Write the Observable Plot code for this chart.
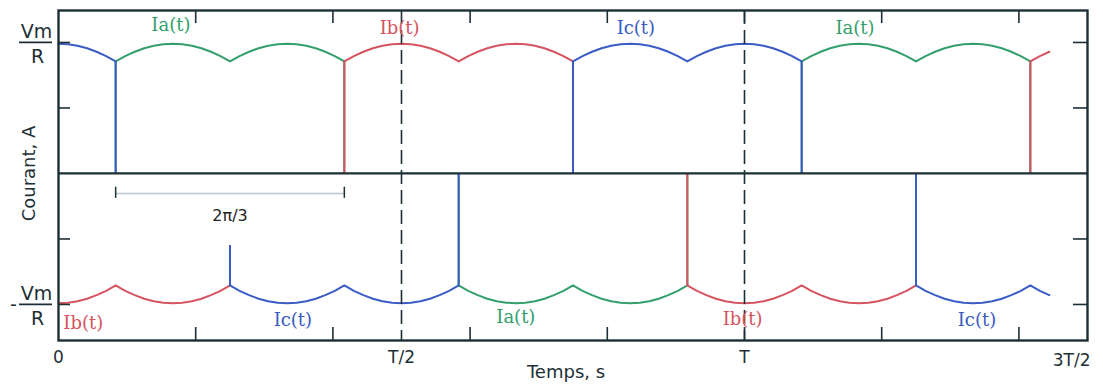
<!DOCTYPE html>
<html>
<head>
<meta charset="utf-8">
<script src="https://cdn.jsdelivr.net/npm/d3@7"></script>
<script src="https://cdn.jsdelivr.net/npm/@observablehq/plot@0.6"></script>
<style>
  html, body { margin: 0; padding: 0; background: #fff; }
</style>
</head>
<body>
<div id="chart"></div>
<script>
// ---- data (electrical angle in degrees; T = 360°) ----
// sampling grid of the read-off curve (every 5°)
const angle = d3.range(0, 521, 5);
// magnitude of the conducting phase current (units of Vm/R)
const iLoad = [
  0.99,0.986,0.975,0.956,0.929,0.896,0.855,0.896,0.929,0.956,0.975,0.986,
  0.99,0.986,0.975,0.956,0.929,0.896,0.855,0.896,0.929,0.956,0.975,0.986,
  0.99,0.986,0.975,0.956,0.929,0.896,0.855,0.896,0.929,0.956,0.975,0.986,
  0.99,0.986,0.975,0.956,0.929,0.896,0.855,0.896,0.929,0.956,0.975,0.986,
  0.99,0.986,0.975,0.956,0.929,0.896,0.855,0.896,0.929,0.956,0.975,0.986,
  0.99,0.986,0.975,0.956,0.929,0.896,0.855,0.896,0.929,0.956,0.975,0.986,
  0.99,0.986,0.975,0.956,0.929,0.896,0.855,0.896,0.929,0.956,0.975,0.986,
  0.99,0.986,0.975,0.956,0.929,0.896,0.855,0.896,0.929,0.956,0.975,0.986,
  0.99,0.986,0.975,0.956,0.929,0.896,0.855,0.896,0.929
];
// positive conduction intervals
const posStart = [0, 30, 150, 270, 390, 510];
const posEnd   = [30, 150, 270, 390, 510, 520];
const posPhase = ["Ic", "Ia", "Ib", "Ic", "Ia", "Ib"];
// negative conduction intervals
const negStart = [0, 90, 210, 330, 450];
const negEnd   = [90, 210, 330, 450, 520];
const negPhase = ["Ib", "Ic", "Ia", "Ib", "Ic"];
// upper end of the negative switching edges (first one is a short spike)
const negEdgeTop = [-0.55, 0, 0, 0];
// curve labels
const lblText  = ["Ia(t)", "Ib(t)", "Ic(t)", "Ia(t)", "Ib(t)", "Ic(t)", "Ia(t)", "Ib(t)", "Ic(t)"];
const lblPhase = ["Ia", "Ib", "Ic", "Ia", "Ib", "Ic", "Ia", "Ib", "Ic"];
const lblAngle = [59, 179, 303, 418, 13, 123, 240, 359, 482];
const lblValue = [1.13, 1.11, 1.11, 1.11, -1.14, -1.12, -1.10, -1.11, -1.12];
// axes
const yTicks = [-1, -0.5, 0.5, 1];
const xTicks = [72, 144, 216, 288, 360, 432, 504];
const xLabelAt = [0, 180, 360];
const xLabelText = ["0", "T/2", "T"];
const xEndAt = 540;
const xEndText = "3T/2";
const dashedAt = [180, 360];
const spanMark = [30, 150];          // 2π/3 interval
const spanLabel = "2π/3";
const phases = ["Ia", "Ib", "Ic"];
const phaseColors = ["#33a06c", "#d6545f", "#3a5cc4"];

// ---- build mark data ----
const order = p => phases.indexOf(p);
const env = a => iLoad[angle.indexOf(a)];
const curve = [];
posPhase.forEach((p, i) => angle.forEach((a, j) => {
  if (a >= posStart[i] && a <= posEnd[i]) curve.push({a, v: iLoad[j], phase: p, seg: "p" + i});
}));
negPhase.forEach((p, i) => angle.forEach((a, j) => {
  if (a >= negStart[i] && a <= negEnd[i]) curve.push({a, v: -iLoad[j], phase: p, seg: "n" + i});
}));
curve.sort((u, w) => order(u.phase) - order(w.phase));
const edges = [];
for (let i = 1; i < posStart.length; i++) {
  const b = posStart[i];
  edges.push({a: b, y1: 0, y2: env(b), phase: posPhase[i - 1]});
  edges.push({a: b, y1: 0, y2: env(b), phase: posPhase[i]});
}
for (let i = 1; i < negStart.length; i++) {
  const b = negStart[i];
  edges.push({a: b, y1: negEdgeTop[i - 1], y2: -env(b), phase: negPhase[i - 1]});
  edges.push({a: b, y1: negEdgeTop[i - 1], y2: -env(b), phase: negPhase[i]});
}
edges.sort((u, w) => order(u.phase) - order(w.phase));
const labels = lblText.map((t, i) => ({t, phase: lblPhase[i], a: lblAngle[i], v: lblValue[i]}));
const xLabels = xLabelText.map((t, i) => ({t, a: xLabelAt[i]}));

// ---- layout ----
const W = 1103, H = 385, ML = 58, MR = 16, MT = 10, MB = 45;
const FW = W - ML - MR, FH = H - MT - MB;
const ink = "#1d2f36";

const chart = Plot.plot({
  width: W, height: H,
  marginLeft: ML, marginRight: MR, marginTop: MT, marginBottom: MB,
  style: {fontFamily: "DejaVu Sans", fontSize: "17px", background: "#fff", color: ink, overflow: "visible"},
  x: {domain: [0, 540], axis: null},
  y: {domain: [-1.275, 1.244], axis: null},
  color: {domain: phases, range: phaseColors},
  marks: [
    // 2π/3 bracket
    Plot.ruleY([-0.153], {x1: spanMark[0], x2: spanMark[1], stroke: "#b7c7d1", strokeWidth: 1.6}),
    Plot.ruleX(spanMark, {x: d => d, y1: -0.105, y2: -0.19, stroke: ink, strokeWidth: 1.5}),
    Plot.text([spanLabel], {x: (spanMark[0] + spanMark[1]) / 2, y: -0.32, text: d => d, fontSize: 16, fill: "#222"}),
    // curves
    Plot.line(curve, {x: "a", y: "v", z: "seg", stroke: "phase", strokeWidth: 2}),
    Plot.ruleX(edges, {x: "a", y1: "y1", y2: "y2", stroke: "phase", strokeWidth: 2}),
    // zero line
    Plot.ruleY([0], {stroke: ink, strokeWidth: 2.2}),
    // dashed markers at T/2 and T
    Plot.ruleX(dashedAt, {x: d => d, stroke: ink, strokeWidth: 1.6, strokeDasharray: "14,6"}),
    // inner ticks
    Plot.tickY(yTicks, {y: d => d, insetRight: FW - 12, stroke: ink, strokeWidth: 1.6}),
    Plot.tickY(yTicks, {y: d => d, insetLeft: FW - 14, stroke: ink, strokeWidth: 1.6}),
    Plot.tickX(xTicks, {x: d => d, insetBottom: FH - 13, stroke: ink, strokeWidth: 1.6}),
    Plot.tickX(xTicks, {x: d => d, insetTop: FH - 13, stroke: ink, strokeWidth: 1.6}),
    Plot.frame({stroke: ink, strokeWidth: 2.4}),
    // curve labels
    Plot.text(labels, {x: "a", y: "v", text: "t", fill: "phase", fontFamily: "DejaVu Serif", fontSize: 18}),
    // y tick labels: ± Vm/R
    Plot.text([1, -1], {y: d => d, text: () => "Vm", frameAnchor: "left", textAnchor: "middle", lineAnchor: "middle", dx: -22, dy: -11, fontSize: 19}),
    Plot.text([1, -1], {y: d => d, text: () => "R", frameAnchor: "left", textAnchor: "middle", lineAnchor: "middle", dx: -21, dy: 14, fontSize: 19}),
    Plot.tickY([1, -1], {y: d => d, insetLeft: -39, insetRight: FW + 6, stroke: ink, strokeWidth: 1.8}),
    Plot.text([-1], {y: d => d, text: () => "-", frameAnchor: "left", textAnchor: "middle", lineAnchor: "middle", dx: -45, dy: 0, fontSize: 19}),
    // x tick labels
    Plot.text(xLabels, {x: "a", text: "t", frameAnchor: "bottom", lineAnchor: "middle", textAnchor: "middle", dy: 17, fontSize: 17}),
    Plot.text([xEndText], {x: xEndAt, text: d => d, frameAnchor: "bottom", lineAnchor: "middle", textAnchor: "end", dx: 3, dy: 20, fontSize: 17}),
    // axis titles
    Plot.text(["Temps, s"], {text: d => d, frameAnchor: "bottom", lineAnchor: "middle", textAnchor: "middle", dx: -7, dy: 32, fontSize: 18}),
    Plot.text(["Courant, A"], {text: d => d, frameAnchor: "left", textAnchor: "middle", lineAnchor: "middle", rotate: -90, dx: -29, dy: -2, fontSize: 18})
  ]
});
document.getElementById("chart").appendChild(chart);
</script>
</body>
</html>
